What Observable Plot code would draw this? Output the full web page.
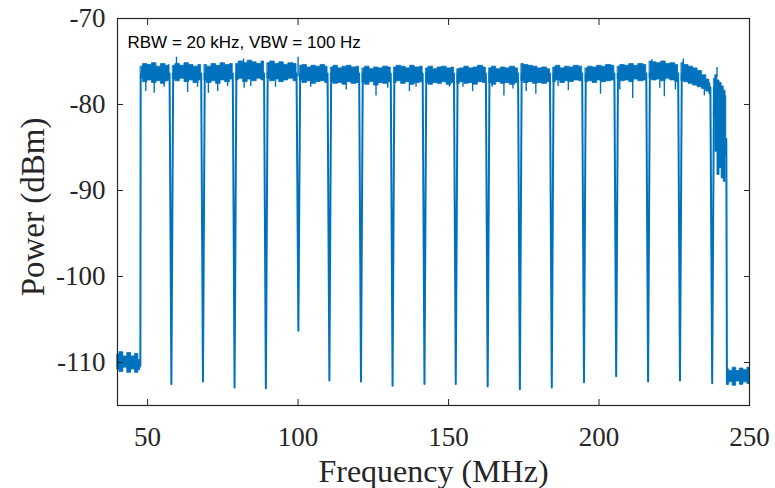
<!DOCTYPE html>
<html>
<head>
<meta charset="utf-8">
<script src="https://cdn.jsdelivr.net/npm/d3@7"></script>
<script src="https://cdn.jsdelivr.net/npm/@observablehq/plot@0.6"></script>
<style>
html,body{margin:0;padding:0;background:#fff;}
#chart{width:775px;height:488px;}
</style>
</head>
<body>
<div id="chart"></div>
<script>
// Axis ticks
const xTicks = [50, 100, 150, 200, 250];
const yTicks = [-110, -100, -90, -80, -70];

// Noise band envelope of the trace (upper / lower edge), one inner array per segment
const bandMHz = [
  [40.0, 41.3, 42.6, 43.9, 45.2, 46.4, 47.5],
  [47.8, 49.2, 50.7, 52.2, 53.7, 55.2, 56.7, 57.3],
  [58.5, 60.0, 61.5, 63.0, 64.5, 66.0, 67.8],
  [69.0, 70.5, 72.0, 73.5, 75.0, 76.5, 78.3],
  [79.5, 81.0, 82.5, 84.0, 85.5, 87.0, 88.7],
  [89.9, 91.5, 93.0, 94.5, 96.0, 97.5, 99.5],
  [100.7, 102.2, 103.7, 105.2, 106.7, 108.2, 109.8],
  [111.0, 112.5, 114.0, 115.5, 117.0, 118.5, 120.3],
  [121.5, 123.0, 124.5, 126.0, 127.5, 129.0, 130.8],
  [132.0, 133.5, 135.0, 136.5, 138.0, 139.5, 141.4],
  [142.6, 144.1, 145.6, 147.1, 148.6, 150.1, 151.8],
  [153.0, 154.5, 156.0, 157.5, 159.0, 160.5, 162.4],
  [163.6, 165.1, 166.6, 168.1, 169.6, 171.1, 173.1],
  [174.3, 175.8, 177.3, 178.8, 180.3, 181.8, 183.7],
  [184.9, 186.4, 187.9, 189.4, 190.9, 192.4, 194.4],
  [195.6, 197.1, 198.6, 200.1, 201.6, 203.1, 205.1],
  [206.3, 207.8, 209.3, 210.8, 212.3, 213.8, 215.7],
  [216.9, 218.4, 219.9, 221.4, 222.9, 224.4, 226.3],
  [227.5, 229.0, 230.5, 232.0, 233.5, 235.0, 236.3, 237.0],
  [238.3, 239.0, 239.7, 240.4, 241.1, 241.8, 242.3],
  [242.7, 243.8, 245.0, 246.2, 247.4, 248.6, 250.0]
];
const bandHi = [
  [-109.1, -108.8, -109.3, -108.9, -109.3, -109.0, -109.7],
  [-75.6, -75.3, -75.4, -75.2, -75.6, -75.3, -75.5, -75.4],
  [-75.5, -75.3, -75.5, -75.2, -75.4, -75.6, -75.4],
  [-75.4, -75.6, -75.3, -75.5, -75.2, -75.4, -75.3],
  [-75.3, -75.0, -75.2, -74.9, -75.1, -75.3, -75.0],
  [-75.2, -75.0, -75.3, -75.1, -75.4, -75.2, -75.3],
  [-75.5, -75.4, -75.7, -75.5, -75.6, -75.4, -75.6],
  [-75.7, -75.5, -75.8, -75.6, -75.5, -75.7, -75.6],
  [-75.8, -75.6, -75.9, -75.7, -75.8, -75.6, -75.7],
  [-75.7, -75.5, -75.6, -75.8, -75.5, -75.7, -75.6],
  [-75.8, -75.6, -75.9, -75.7, -75.6, -75.8, -75.7],
  [-75.9, -75.8, -75.6, -75.8, -75.7, -75.5, -75.7],
  [-75.8, -75.6, -75.9, -75.7, -75.8, -75.6, -75.8],
  [-75.3, -75.4, -75.5, -75.6, -75.8, -75.7, -75.9],
  [-75.7, -75.5, -75.8, -75.6, -75.7, -75.5, -75.6],
  [-75.8, -75.6, -75.7, -75.5, -75.6, -75.4, -75.5],
  [-75.6, -75.4, -75.5, -75.3, -75.5, -75.3, -75.4],
  [-75.0, -75.1, -75.2, -75.0, -75.3, -75.2, -75.4],
  [-75.2, -75.4, -75.6, -75.8, -76.1, -76.6, -77.1, -77.5],
  [-77.0, -76.6, -77.2, -77.5, -77.9, -78.4, -79.0],
  [-110.8, -111.0, -110.6, -111.0, -110.7, -110.9, -110.6]
];
const bandLo = [
  [-110.8, -111.1, -110.6, -111.2, -110.8, -111.2, -110.9],
  [-77.0, -77.4, -77.2, -77.5, -77.3, -77.6, -77.3, -77.2],
  [-77.1, -77.3, -77.0, -77.4, -77.2, -77.5, -77.2],
  [-77.2, -77.5, -77.3, -77.6, -77.2, -77.4, -77.1],
  [-77.2, -77.0, -77.4, -77.1, -77.3, -77.0, -77.2],
  [-77.0, -77.3, -77.1, -77.4, -77.2, -77.0, -77.3],
  [-77.2, -77.5, -77.3, -77.6, -77.4, -77.3, -77.5],
  [-77.4, -77.6, -77.5, -77.7, -77.4, -77.6, -77.5],
  [-77.5, -77.7, -77.4, -77.8, -77.5, -77.6, -77.4],
  [-77.5, -77.3, -77.6, -77.4, -77.7, -77.5, -77.4],
  [-77.5, -77.7, -77.5, -77.6, -77.4, -77.7, -77.5],
  [-77.6, -77.4, -77.6, -77.5, -77.7, -77.4, -77.5],
  [-77.5, -77.7, -77.4, -77.6, -77.5, -77.7, -77.5],
  [-77.3, -77.5, -77.4, -77.6, -77.5, -77.6, -77.4],
  [-77.4, -77.2, -77.5, -77.3, -77.4, -77.2, -77.3],
  [-77.4, -77.3, -77.5, -77.2, -77.4, -77.3, -77.2],
  [-77.1, -77.3, -77.2, -77.4, -77.1, -77.3, -77.2],
  [-77.0, -77.2, -77.1, -77.3, -77.0, -77.2, -77.4],
  [-77.3, -77.4, -77.6, -77.8, -78.0, -78.2, -78.5, -78.8],
  [-81.5, -85.5, -88.2, -87.4, -88.6, -89.0, -86.0],
  [-112.6, -112.3, -112.7, -112.2, -112.6, -112.3, -112.5]
];

// Notches between channels
const notchMHz = [57.9, 68.4, 78.9, 89.3, 100.1, 110.4, 120.9, 131.4, 142.0, 152.4, 163.0, 173.7, 184.3, 195.0, 205.7, 216.3, 226.9, 237.6];
const notchDbm = [-112.5, -112.2, -112.9, -113.0, -106.3, -112.1, -112.2, -112.7, -112.5, -112.5, -112.8, -113.1, -112.9, -112.3, -111.6, -112.2, -112.1, -112.4];
const notchRimDbm = [-76.4, -76.4, -76.4, -76.4, -76.4, -76.4, -76.4, -76.4, -76.4, -76.4, -76.4, -76.4, -76.4, -76.4, -76.4, -76.4, -76.4, -78.0];
const notchHalfWidthMHz = 0.6;

// Band-edge transitions (rise at the start, fall at the end)
const edgeSeg = [0, 0, 0, 0, 1, 1, 1];
const edgeMHz = [47.4, 47.6, 47.7, 47.9, 242.3, 242.5, 242.7];
const edgeDbm = [-110.5, -110.3, -77.0, -76.4, -84.0, -112.5, -111.5];

// Isolated spikes in the trace
const spikeMHz = [49.4, 52.2, 55.5, 59.6, 63.3, 66.6, 70.2, 73.3, 76.6, 81.9, 82.1, 84.3, 92.5, 100.0, 104.2, 116.0, 125.9, 129.8, 137.0, 139.2, 150.3, 154.8, 158.0, 164.5, 168.4, 171.4, 175.8, 179.0, 186.4, 189.8, 200.5, 206.9, 211.2, 217.6, 220.2, 221.7, 225.4, 228.0, 235.0, 239.2];
const spikeDbm = [-78.5, -78.7, -78.0, -74.5, -78.6, -78.0, -78.7, -78.5, -77.9, -74.7, -78.1, -77.9, -78.0, -74.5, -78.0, -78.3, -79.0, -78.1, -78.5, -78.0, -78.0, -78.0, -78.5, -78.0, -79.0, -78.2, -78.5, -78.8, -77.9, -78.4, -78.8, -78.3, -79.3, -74.8, -78.1, -79.1, -78.3, -74.7, -79.0, -75.7];
const spikeBaseDbm = -76.8;

const annotation = "RBW = 20 kHz, VBW = 100 Hz";
const xLabel = "Frequency (MHz)";
const yLabel = "Power (dBm)";

// Build tables
const bandRows = bandMHz.flatMap((seg, s) => seg.map((f, i) => ({seg: s, f, hi: bandHi[s][i], lo: bandLo[s][i]})));
const notchRows = notchMHz.flatMap((c, i) => [
  {seg: i, f: c - notchHalfWidthMHz, p: notchRimDbm[i]},
  {seg: i, f: c, p: notchDbm[i]},
  {seg: i, f: c + notchHalfWidthMHz, p: notchRimDbm[i]}
]);
const edgeRows = edgeMHz.map((f, i) => ({seg: edgeSeg[i], f, p: edgeDbm[i]}));
const spikeRows = spikeMHz.map((f, i) => ({f, p: spikeDbm[i]}));

const blue = "#0072BD";
const ink = "#262626";

const chart = Plot.plot({
  width: 775,
  height: 488,
  marginLeft: 117,
  marginRight: 26,
  marginTop: 18,
  marginBottom: 83,
  style: {fontFamily: "'Liberation Serif', 'Times New Roman', serif", color: ink, background: "#fff", overflow: "visible"},
  x: {domain: [40, 250]},
  y: {domain: [-115, -70]},
  marks: [
    Plot.areaY(bandRows, {x: "f", y1: "lo", y2: "hi", z: "seg", curve: "step", fill: blue, stroke: blue, strokeWidth: 0.8}),
    Plot.line(notchRows, {x: "f", y: "p", z: "seg", stroke: blue, strokeWidth: 2}),
    Plot.line(edgeRows, {x: "f", y: "p", z: "seg", stroke: blue, strokeWidth: 2}),
    Plot.ruleX(spikeRows, {x: "f", y1: spikeBaseDbm, y2: "p", stroke: blue, strokeWidth: 1.4}),
    Plot.frame({stroke: ink, strokeWidth: 1.2}),
    Plot.axisX(xTicks, {anchor: "bottom", tickSize: -6, tickPadding: 27, fontSize: 27, tickFormat: d => String(d), label: null, stroke: ink, fill: ink}),
    Plot.axisX(xTicks, {anchor: "top", tickSize: -6, tickFormat: () => "", label: null, stroke: ink}),
    Plot.axisY(yTicks, {anchor: "left", tickSize: -6, tickPadding: 18, fontSize: 27, tickFormat: d => String(d), label: null, stroke: ink, fill: ink}),
    Plot.axisY(yTicks, {anchor: "right", tickSize: -6, tickFormat: () => "", label: null, stroke: ink}),
    Plot.text([xLabel], {frameAnchor: "bottom", lineAnchor: "middle", dy: 66, fontSize: 32, fill: ink}),
    Plot.text([yLabel], {frameAnchor: "left", lineAnchor: "middle", textAnchor: "middle", dx: -84, dy: -5, rotate: -90, fontSize: 33, fill: ink}),
    Plot.text([annotation], {frameAnchor: "top-left", lineAnchor: "middle", textAnchor: "start", dx: 10, dy: 24, fontSize: 17, fontFamily: "'Liberation Sans', Arial, sans-serif", fill: "#000"})
  ]
});
document.getElementById("chart").appendChild(chart);
</script>
</body>
</html>
